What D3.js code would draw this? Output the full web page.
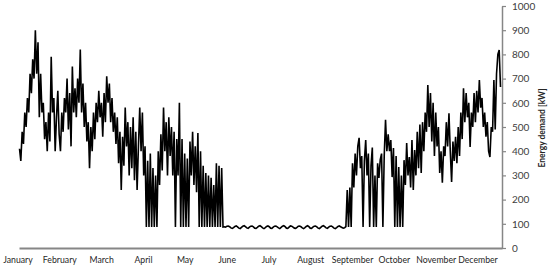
<!DOCTYPE html>
<html>
<head>
<meta charset="utf-8">
<script src="https://cdn.jsdelivr.net/npm/d3@7"></script>
<style>
	body { margin: 0; background: #fff; }
	svg { display: block; }
	.month-label { font-family: Lato, "Open Sans", sans-serif; font-size: 8.7px; fill: #262626; }
	.y-axis text { font-family: Lato, "Open Sans", sans-serif; font-size: 10px; fill: #404040; }
	.y-title { font-family: Lato, "Open Sans", sans-serif; font-size: 8.5px; font-weight: bold; fill: #262626; }
</style>
</head>
<body>
<div id="chart-area"></div>
<script>
// Month names on the x axis
let months = ["January", "February", "March", "April", "May", "June",
	"July", "August", "September", "October", "November", "December"];

// Y axis ticks (kW)
let yTicks = [0, 100, 200, 300, 400, 500, 600, 700, 800, 900, 1000];

// Energy demand [kW], one value per day
let jan = [410, 360, 480, 430, 560, 500, 620, 560, 720, 640, 780, 700, 900, 720, 850, 540,
	720, 560, 600, 450, 520, 400, 560, 440, 790, 560, 620, 400, 540, 650, 470];
let feb = [400, 560, 480, 620, 560, 700, 490, 640, 420, 750, 560, 660, 540, 700, 600, 820,
	560, 680, 500, 600, 440, 520, 330, 500, 400, 560, 450, 600];
let mar = [520, 650, 540, 600, 460, 640, 520, 710, 600, 680, 520, 620, 480, 560, 430, 540,
	350, 480, 240, 460, 340, 580, 420, 520, 300, 500, 330, 540, 280, 480, 240];
let apr = [420, 580, 400, 560, 300, 420, 87, 360, 87, 390, 87, 330, 87, 300, 87, 400,
	260, 470, 320, 580, 400, 520, 300, 540, 380, 500, 300, 480, 87, 450];
let may = [300, 600, 87, 450, 87, 390, 87, 370, 87, 440, 300, 480, 260, 420, 230, 475,
	87, 400, 87, 340, 87, 310, 87, 300, 87, 290, 87, 260, 87, 350, 87];
let jun = [340, 87, 330, 87, 88, 86, 90, 91, 88, 83, 81, 84, 89, 91, 87, 82,
	80, 85, 90, 92, 88, 83, 81, 86, 90, 91, 87, 82, 81, 85];
let jul = [90, 92, 88, 83, 80, 84, 89, 91, 88, 82, 81, 86, 90, 91, 87, 83,
	80, 85, 90, 92, 88, 82, 81, 86, 91, 90, 86, 82, 81, 85, 90];
let aug = [91, 88, 83, 80, 84, 89, 92, 88, 82, 81, 86, 90, 91, 87, 82, 80,
	85, 90, 92, 88, 83, 81, 86, 90, 91, 87, 82, 80, 84, 89, 91];
let sep = [88, 85, 82, 84, 88, 240, 87, 250, 87, 350, 250, 390, 300, 420, 455, 330,
	380, 87, 360, 446, 300, 390, 87, 340, 415, 87, 300, 87, 350, 290];
let oct = [365, 390, 87, 380, 530, 400, 470, 400, 446, 293, 413, 87, 380, 87, 335, 87,
	300, 87, 363, 260, 434, 300, 376, 250, 446, 240, 405, 300, 480, 330, 510];
let nov = [310, 520, 400, 560, 480, 673, 500, 640, 440, 600, 380, 560, 420, 500, 310, 400,
	270, 420, 380, 520, 420, 557, 400, 273, 440, 360, 460, 350, 500, 380];
let dec = [560, 450, 660, 520, 640, 540, 600, 417, 560, 500, 640, 520, 650, 560, 694, 580,
	620, 500, 560, 460, 520, 400, 376, 500, 480, 694, 490, 720, 800, 818, 665];

let demand = [].concat(jan, feb, mar, apr, may, jun, jul, aug, sep, oct, nov, dec);

let width = 550, height = 268;

let svg = d3.select("#chart-area")
	.append("svg")
	.attr("width", width)
	.attr("height", height);

// Scales
let dayScale = d3.scaleLinear()
	.domain([0, demand.length - 1])
	.range([19.5, 500.5]);

let demandScale = d3.scaleLinear()
	.domain([0, 1000])
	.range([248, 6]);

let monthScale = d3.scalePoint()
	.domain(months)
	.range([18, 478]);

// X axis line (no ticks)
let xAxis = d3.axisBottom()
	.scale(d3.scaleLinear().domain([0, 1]).range([19, 502]))
	.tickValues([])
	.tickSizeOuter(0);

let xAxisGroup = svg.append("g")
	.attr("class", "axis x-axis")
	.attr("transform", "translate(0,248)")
	.call(xAxis);

xAxisGroup.select(".domain")
	.attr("stroke", "#868686")
	.attr("stroke-width", 2);

// Month labels
svg.selectAll("text.month-label")
	.data(months)
	.enter()
	.append("text")
	.attr("class", "month-label")
	.attr("x", d => monthScale(d))
	.attr("y", 263)
	.attr("text-anchor", "middle")
	.text(d => d);

// Y axis on the right
let yAxis = d3.axisRight()
	.scale(demandScale)
	.tickValues(yTicks)
	.tickFormat(d3.format("d"))
	.tickSize(4)
	.tickSizeOuter(0)
	.tickPadding(6);

let yAxisGroup = svg.append("g")
	.attr("class", "axis y-axis")
	.attr("transform", "translate(502,0)")
	.call(yAxis);

yAxisGroup.select(".domain")
	.attr("stroke", "#868686")
	.attr("stroke-width", 1.5);
yAxisGroup.selectAll(".tick line")
	.attr("stroke", "#868686")
	.attr("stroke-width", 1.2);
yAxisGroup.selectAll("text").attr("font-family", null).attr("font-size", null);

// Y axis title
svg.append("text")
	.attr("class", "y-title")
	.attr("transform", "translate(545,128) rotate(-90)")
	.attr("text-anchor", "middle")
	.text("Energy demand [kW]");

// Demand line
let lineGen = d3.line()
	.x((d, i) => dayScale(i))
	.y(d => demandScale(d));

svg.append("path")
	.datum(demand)
	.attr("d", lineGen)
	.attr("fill", "none")
	.attr("stroke", "#000")
	.attr("stroke-width", 1.6)
	.attr("stroke-linejoin", "miter");
</script>
</body>
</html>
